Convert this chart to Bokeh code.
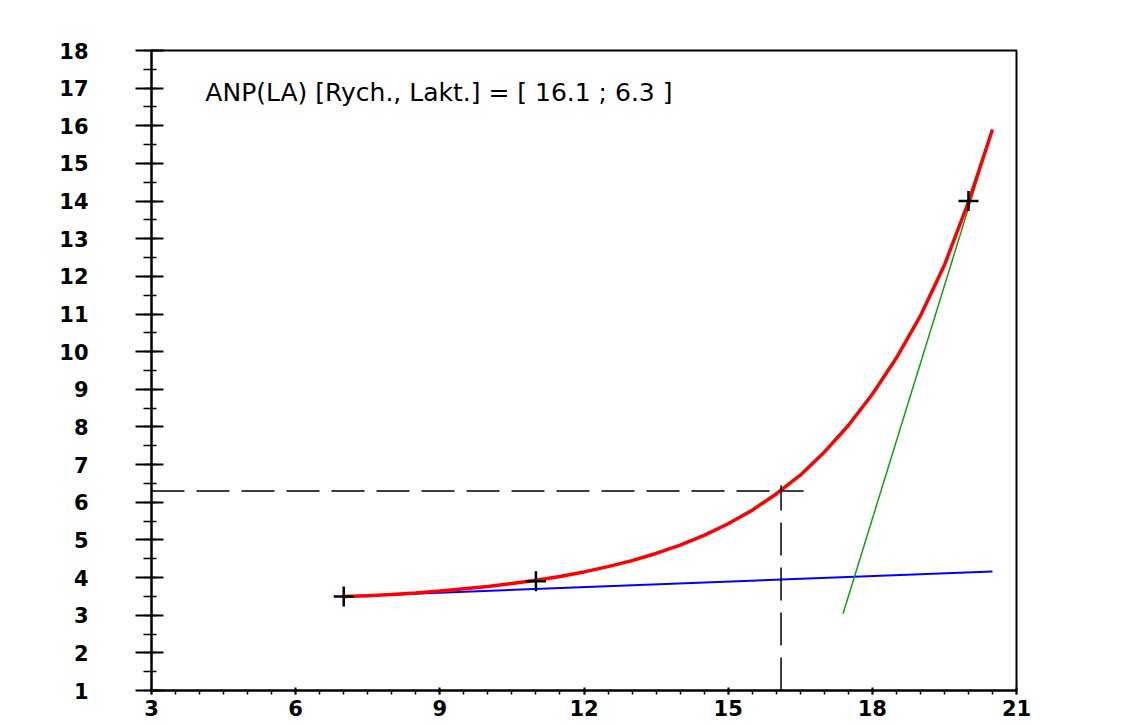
from bokeh.plotting import figure
from bokeh.models import Range1d, FixedTicker, Label
from bokeh.embed import file_html
from bokeh.resources import INLINE

# ---- data ----
x_major_ticks = [3, 6, 9, 12, 15, 18, 21]
x_minor_ticks = [3 + 0.5 * i for i in range(37)]
y_major_ticks = list(range(1, 19))
y_minor_ticks = [1 + 0.5 * i for i in range(35)]

# measured points (crosses)
pt_x = [7, 11, 20]
pt_y = [3.5, 3.9, 14.0]

# fitted lactate curve (red)
red_x = [7, 7.5, 8, 8.5, 9, 9.5, 10, 10.5, 11, 11.5, 12, 12.5, 13, 13.5, 14, 14.5,
         15, 15.5, 16, 16.5, 17, 17.5, 18, 18.5, 19, 19.5, 20, 20.5]
red_y = [3.50, 3.52, 3.55, 3.59, 3.64, 3.70, 3.76, 3.84, 3.93, 4.03, 4.15, 4.29,
         4.45, 4.64, 4.86, 5.12, 5.43, 5.79, 6.22, 6.72, 7.33, 8.04, 8.87, 9.83,
         10.95, 12.30, 13.97, 15.90]

# lower tangent (blue)
blue_x = [7, 20.5]
blue_y = [3.5, 4.16]

# upper tangent (green)
green_x = [17.39, 20.5]
green_y = [3.04, 15.88]

# ANP crosshair
anp_x = 16.1
anp_y = 6.3
h_x = [3, 16.57]
h_y = [anp_y, anp_y]
v_x = [anp_x, anp_x]
v_y = [1, 6.45]

title_text = "ANP(LA) [Rych., Lakt.] = [ 16.1 ; 6.3 ]"

# ---- figure ----
p = figure(width=1148, height=725,
           x_range=Range1d(3, 21), y_range=Range1d(1, 18),
           output_backend="svg", toolbar_location=None,
           min_border_left=151, min_border_right=132,
           min_border_top=50, min_border_bottom=35)

p.background_fill_color = "white"
p.border_fill_color = "white"
p.grid.visible = False
p.outline_line_color = "black"
p.outline_line_width = 2

# x axis
xa = p.xaxis[0]
xa.ticker = FixedTicker(ticks=x_major_ticks, minor_ticks=x_minor_ticks)
xa.axis_line_width = 2
xa.axis_line_color = "black"
xa.major_tick_line_width = 2
xa.minor_tick_line_width = 1.5
xa.major_tick_in = 3
xa.major_tick_out = 4
xa.minor_tick_in = 0
xa.minor_tick_out = 4
xa.major_label_standoff = 5
xa.major_label_text_font = "DejaVu Sans"
xa.major_label_text_font_style = "bold"
xa.major_label_text_font_size = "21px"
xa.major_label_text_color = "black"

# y axis
ya = p.yaxis[0]
ya.ticker = FixedTicker(ticks=y_major_ticks, minor_ticks=y_minor_ticks)
ya.axis_line_width = 2
ya.axis_line_color = "black"
ya.major_tick_line_width = 2
ya.minor_tick_line_width = 1.5
ya.major_tick_in = 12
ya.major_tick_out = 16
ya.minor_tick_in = 5
ya.minor_tick_out = 8
ya.major_label_standoff = 47
ya.major_label_text_font = "DejaVu Sans"
ya.major_label_text_font_style = "bold"
ya.major_label_text_font_size = "21px"
ya.major_label_text_color = "black"

# lines
p.line(blue_x, blue_y, line_color="#0000ff", line_width=2)
p.line(green_x, green_y, line_color="#10a010", line_width=1.5)
p.line(red_x, red_y, line_color="#ff0000", line_width=3.5)
p.line(h_x, h_y, line_color="black", line_width=1.5, line_dash="33 12")
p.line(v_x, v_y, line_color="black", line_width=1.5, line_dash="33 12")

# crosses
p.scatter(pt_x, pt_y, marker="cross", size=20, line_color="black", line_width=2.5)

# annotation text
p.add_layout(Label(x=4.12, y=16.88, text=title_text, text_font="DejaVu Sans",
                   text_font_size="25px", text_baseline="alphabetic",
                   text_color="black"))

open("out.html", "w").write(file_html(p, INLINE))
